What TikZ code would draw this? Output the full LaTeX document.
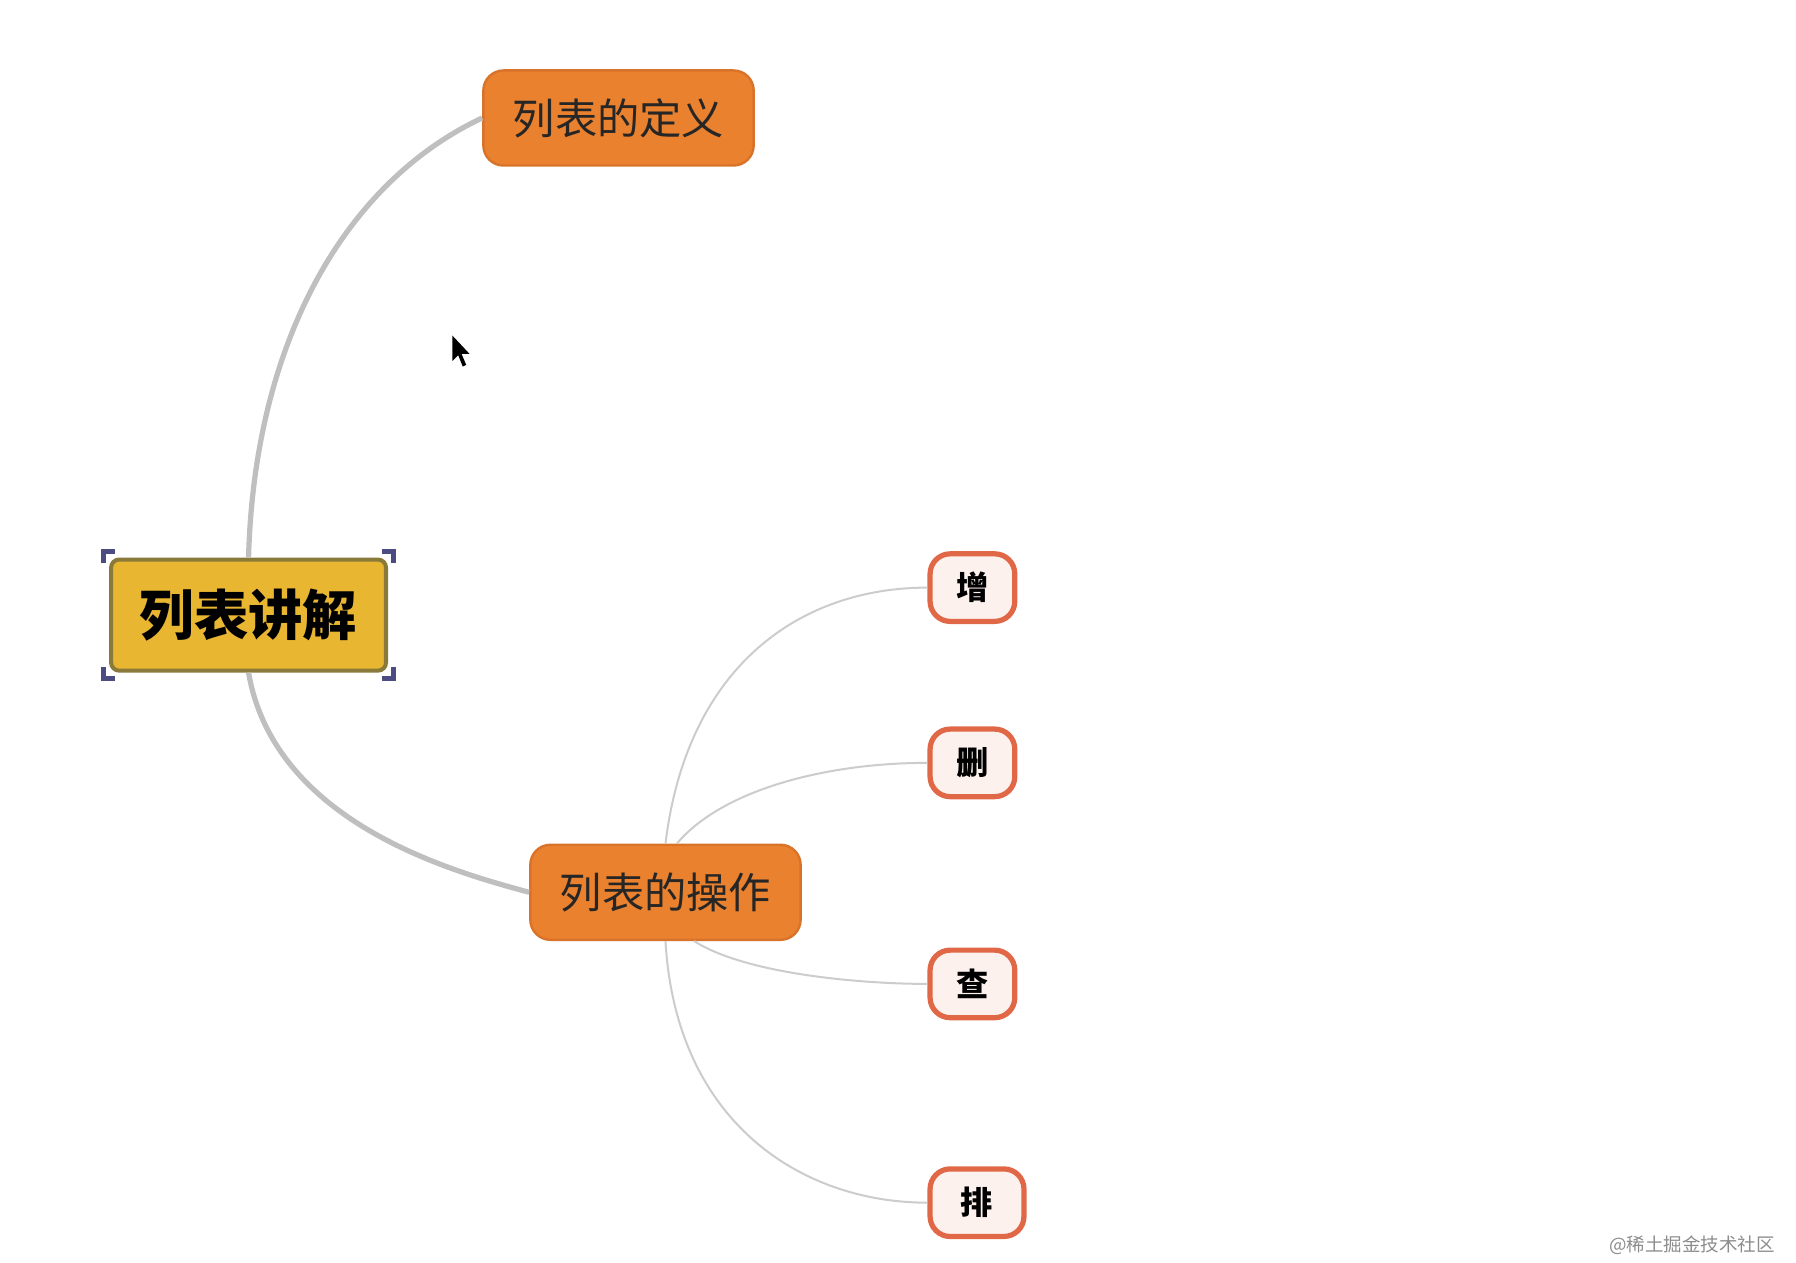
\documentclass[tikz,border=0pt]{standalone}
\usepackage{fontspec}
\setmainfont{Noto Sans CJK SC}
\definecolor{gold}{HTML}{E9B632}
\definecolor{goldb}{HTML}{8A7A3A}
\definecolor{topicc}{HTML}{E9812E}
\definecolor{topicb}{HTML}{D9732A}
\definecolor{leafb}{HTML}{E06846}
\definecolor{leaff}{HTML}{FDF1EE}
\begin{document}
\begin{tikzpicture}[x=0.01cm,y=-0.01cm,
  rootbox/.style={draw=goldb,line width=1.0pt,fill=gold,rounded corners=2pt,minimum width=240*0.01cm,minimum height=97*0.01cm,font=\fontsize{13.5}{14}\selectfont\bfseries,inner sep=0pt},
  topic/.style={fill=topicc,draw=topicb,line width=0.6pt,rounded corners=5pt,minimum width=236*0.01cm,minimum height=83*0.01cm,font=\fontsize{10.5}{11}\selectfont,inner sep=0pt,text=black!85},
  leaf/.style={fill=leaff,draw=leafb,line width=1.3pt,rounded corners=5pt,minimum width=74*0.01cm,minimum height=59*0.01cm,font=\fontsize{8}{9}\selectfont\bfseries,inner sep=0pt},
  mainline/.style={draw=black!25,line width=1.3pt},
  subline/.style={draw=black!20,line width=0.5pt},
  handle/.style={draw=blue!30!black!70,line width=1.3pt}]
\useasboundingbox (0,0) rectangle (1568,1102);
\node[rootbox] (root) at (217,537) {列表讲解};
\node[topic] (def) at (540,103) {列表的定义};
\node[topic] (op) at (581,779) {列表的操作};
\node[leaf] (z) at (849,513) {增};
\node[leaf] (s) at (849,666) {删};
\node[leaf] (c) at (849,859) {查};
\node[leaf,minimum width=82*0.01cm] (p) at (853,1050) {排};
\draw[mainline] (root.north) .. controls (222,300) and (300,160) .. (def.west);
\draw[mainline] (root.south) .. controls (240,720) and (400,762) .. (op.west);
\draw[subline] (op.north) .. controls (600,580) and (700,513) .. (z.west);
\draw[subline] ([xshift=10*0.01cm]op.north) .. controls (630,690) and (720,666) .. (s.west);
\draw[subline] ([xshift=25*0.01cm]op.south) .. controls (650,850) and (750,859) .. (c.west);
\draw[subline] (op.south) .. controls (590,980) and (700,1050) .. (p.west);
\foreach \a/\dx/\dy in {north west/1/1,north east/-1/1,south west/1/-1,south east/-1/-1}{
  \draw[handle] ([xshift=-\dx*5*0.01cm,yshift=\dy*5*0.01cm]root.\a) ++(0,\dy*10) -- ++(0,-\dy*10) -- ++(\dx*10,0);
}
\coordinate (cur) at (395,293);
\fill[black] (cur) -- ++(0,22) -- ++(5,-5) -- ++(4,10) -- ++(3,-1.5) -- ++(-4,-9.5) -- ++(7,0) -- cycle;
\node[text=black!45,font=\fontsize{4.6}{5}\selectfont,anchor=east] (wm) at (1562,1087) {@稀土掘金技术社区};
\end{tikzpicture}
\end{document}
